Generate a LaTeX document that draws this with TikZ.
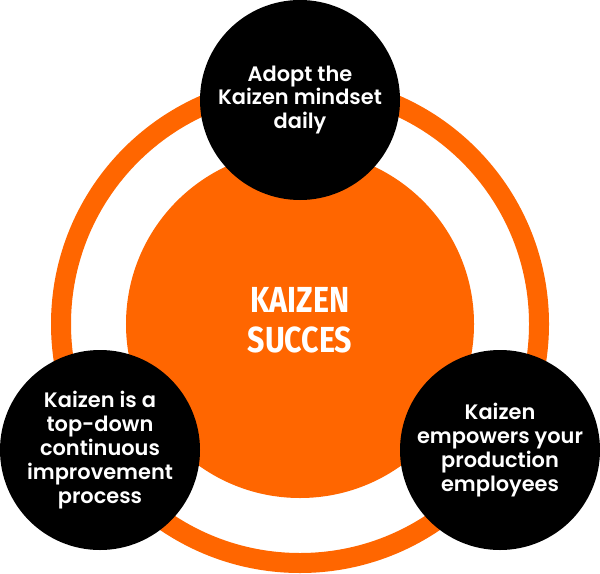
\documentclass[tikz,border=0pt]{standalone}
\usepackage{fontspec}
\setmainfont{Poppins}[BoldFont={Poppins SemiBold}]
\newfontfamily\condfont[FakeStretch=0.84]{Fira Sans}
\usepackage{xcolor}
\definecolor{kaiorange}{HTML}{FF6600}
\tikzset{
  ring/.style={draw=kaiorange, line width=4mm},
  core/.style={circle, fill=kaiorange, minimum size=69.6mm, inner sep=0pt},
  title/.style={text=white, align=center, font=\condfont\bfseries\fontsize{20.6}{22.7}\selectfont},
  bubble/.style={circle, fill=black, minimum size=40mm, inner sep=0pt, text=white, align=center,
    font=\bfseries\fontsize{11.9}{13.6}\selectfont}
}

\begin{document}
\begin{tikzpicture}[x=0.2mm,y=-0.2mm]
    \useasboundingbox (0,0) rectangle (600,574);
		\coordinate (O) at(300,324);

    % outer ring and core
		\draw[ring] (O) circle[radius=239];
		\node[core] (core) at(O) {};
		\node[title] (label) at(300,320) {KAIZEN\\SUCCES};

    % the three steps
		\node[bubble] (mindset) at(300,100) {Adopt the\\Kaizen mindset\\daily};
		\node[bubble] (topdown) at(100,450) {Kaizen is a\\top-down\\continuous\\improvement\\process};
		\node[bubble] (empower) at(500,450) {Kaizen\\empowers your\\production\\employees};
	\end{tikzpicture}
\end{document}
